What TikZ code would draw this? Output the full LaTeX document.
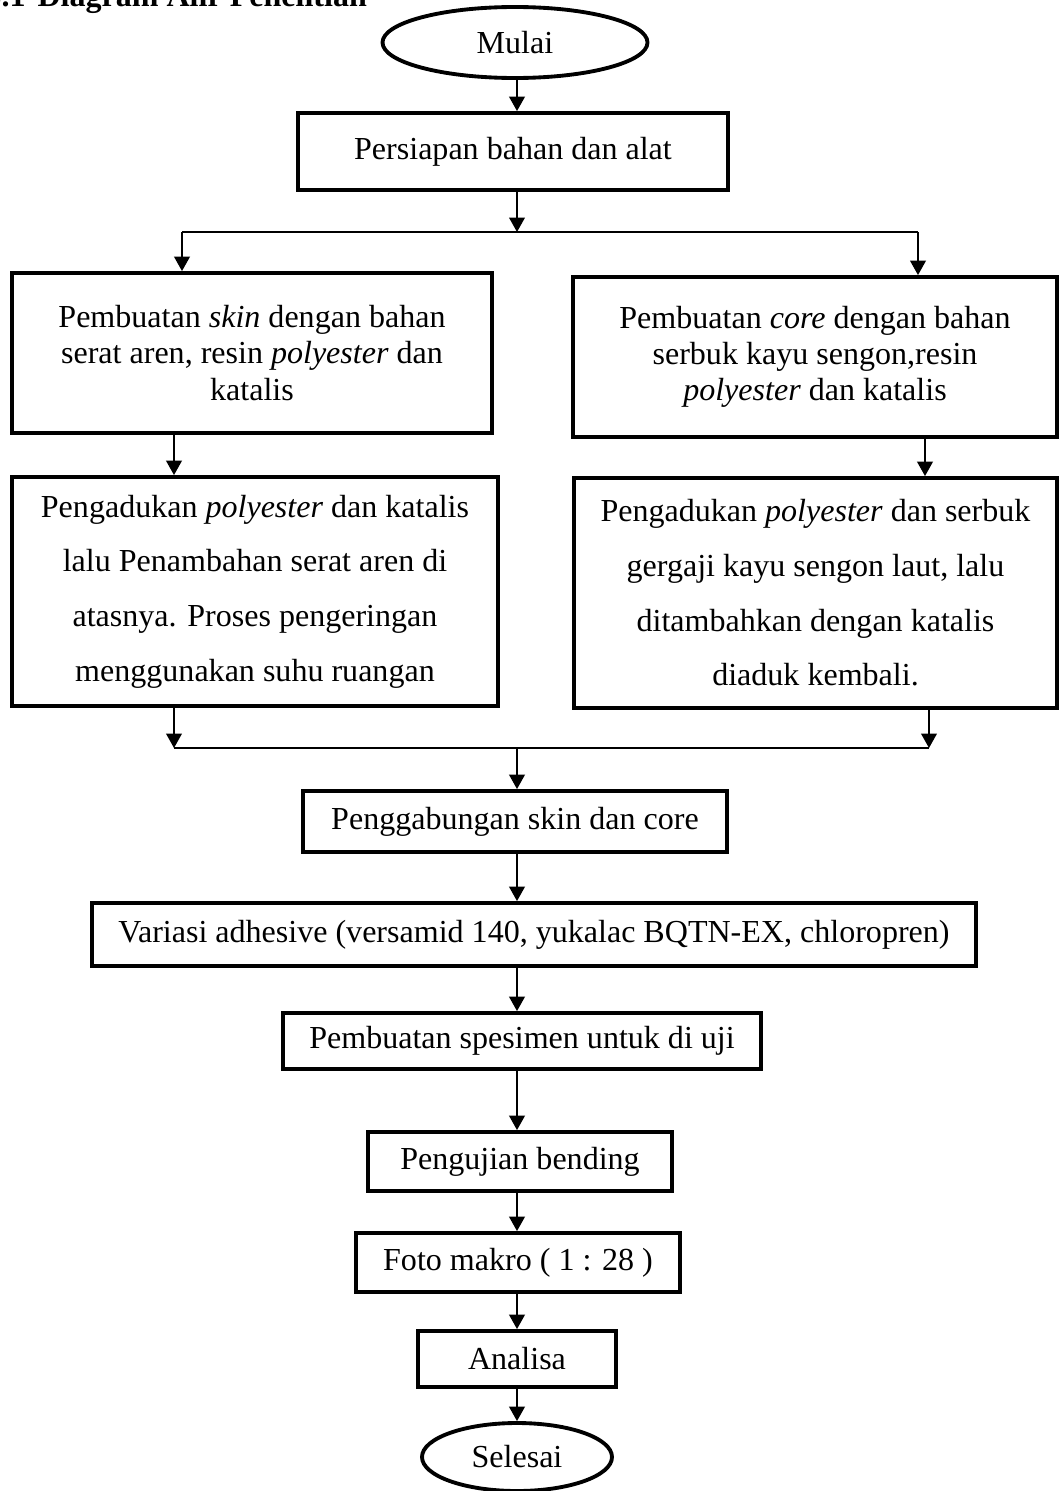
\documentclass[tikz,border=0pt]{standalone}
\usepackage{fontspec}
\setmainfont{Liberation Serif}
\usetikzlibrary{positioning,arrows.meta,shapes.geometric}
\newdimen\pxu
\pxu=0.01458cm

\begin{document}
\begin{tikzpicture}[
  x=\pxu, y=-\pxu,
  font=\fontsize{13.3}{15}\selectfont, >={Triangle[length=6pt,width=6.5pt]},
  box/.style={draw, line width=1.6pt, align=center, inner sep=0pt},
  term/.style={draw, line width=1.6pt, ellipse, inner sep=0pt},
  wide/.style={font=\fontsize{13.3}{22.7}\selectfont},
  flow/.style={->, line width=0.8pt},
  link/.style={line width=0.7pt},
]
\useasboundingbox (0,0) rectangle (1059,1491);
% heading (cut by the page top)
\node[anchor=base west, inner sep=0pt, font=\fontsize{13.3}{15}\selectfont\bfseries]
  (head) at (-15,7) {3.1\hspace{5pt}Diagram Alir Penelitian};
% start and preparation
\node[term, minimum width=265\pxu, minimum height=71\pxu] (start) at (515,42.5) {Mulai};
\node[box, minimum width=430\pxu, minimum height=77\pxu] (prep) at (513,151.5) {Persiapan bahan dan alat};
% skin branch
\node[box, minimum width=480\pxu, minimum height=160\pxu] (skin) at (252,353)
  {Pembuatan \textit{skin} dengan bahan\\serat aren, resin \textit{polyester} dan\\katalis};
\node[box, wide, minimum width=486\pxu, minimum height=229\pxu] (skinmix) at (255,591.5)
  {Pengadukan \textit{polyester} dan katalis\\lalu Penambahan serat aren di\\atasnya. Proses pengeringan\\menggunakan suhu ruangan};
% core branch
\node[box, minimum width=484\pxu, minimum height=160\pxu] (core) at (815,357)
  {Pembuatan \textit{core} dengan bahan\\serbuk kayu sengon,resin\\\textit{polyester} dan katalis};
\node[box, wide, minimum width=483\pxu, minimum height=230\pxu] (coremix) at (815.5,593)
  {Pengadukan \textit{polyester} dan serbuk\\gergaji kayu sengon laut, lalu\\ditambahkan dengan katalis\\diaduk kembali.};
% main line after merging
\node[box, minimum width=424\pxu, minimum height=61\pxu] (join) at (515,821.5) {Penggabungan skin dan core};
\node[box, minimum width=884\pxu, minimum height=63\pxu] (adh) at (534,934.5)
  {Variasi adhesive (versamid 140, yukalac BQTN-EX, chloropren)};
\node[box, minimum width=478\pxu, minimum height=56\pxu] (spec) at (522,1041) {Pembuatan spesimen untuk di uji};
\node[box, minimum width=304\pxu, minimum height=59\pxu] (bend) at (520,1161.5) {Pengujian bending};
\node[box, minimum width=324\pxu, minimum height=59\pxu] (macro) at (518,1262.5) {Foto makro ( 1 : 28 )};
\node[box, minimum width=198\pxu, minimum height=56\pxu] (anl) at (517,1359) {Analisa};
\node[term, minimum width=190\pxu, minimum height=68\pxu] (stop) at (517,1457) {Selesai};
% split and merge points
\coordinate (spine) at (517,0);
\coordinate (splitL) at (182,232);
\coordinate (splitR) at (918,232);
\coordinate (mixL) at (174,748);
\coordinate (mixR) at (929,748);
% flows
\draw[flow] (start.south -| spine) -- (prep.north -| spine);
\draw[flow] (prep.south -| spine) -- (splitL -| spine);
\draw[link] (splitL) -- (splitR);
\draw[flow] (splitL) -- (skin.north -| splitL);
\draw[flow] (splitR) -- (core.north -| splitR);
\draw[flow] (skin.south -| mixL) -- (skinmix.north -| mixL);
\draw[flow] (core.south -| 925,0) -- (coremix.north -| 925,0);
\draw[flow] (skinmix.south -| mixL) -- (mixL);
\draw[flow] (coremix.south -| mixR) -- (mixR);
\draw[link] (mixL) -- (mixR);
\draw[flow] (mixL -| spine) -- (join.north -| spine);
\foreach \a/\b in {join/adh, adh/spec, spec/bend, bend/macro, macro/anl, anl/stop}
  \draw[flow] (\a.south -| spine) -- (\b.north -| spine);
\end{tikzpicture}
\end{document}
